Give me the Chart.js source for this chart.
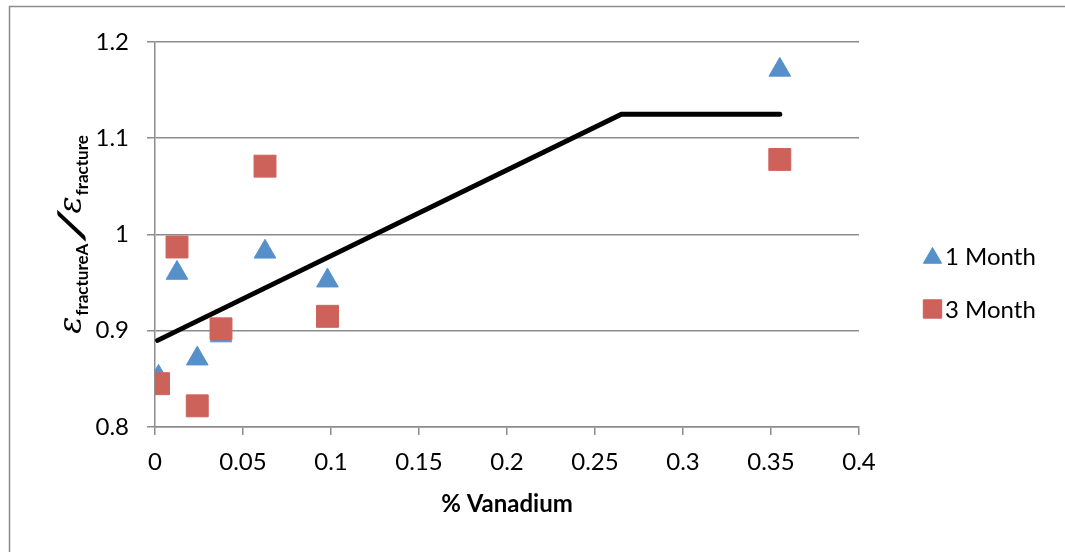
<!DOCTYPE html>
<html>
<head>
<meta charset="utf-8">
<script src="https://cdn.jsdelivr.net/npm/chart.js@4/dist/chart.umd.min.js"></script>
<style>
  html, body { margin: 0; padding: 0; background: #fff; }
  #wrap { width: 1065px; height: 552px; position: relative; }
</style>
</head>
<body>
<div id="wrap"><canvas id="grafico" width="1065" height="552"></canvas></div>
<script>
// valores
const vanadio = [0.002, 0.0125, 0.024, 0.0375, 0.0625, 0.098, 0.355];
const umMes = [0.852, 0.960, 0.871, 0.895, 0.982, 0.952, 1.171];
const tresMeses = [0.845, 0.987, 0.822, 0.902, 1.071, 0.915, 1.078];
const ajusteX = [0.0015, 0.265, 0.355];
const ajusteY = [0.890, 1.125, 1.125];
const nomesSeries = ['1 Month', '3 Month'];
const tituloX = '% Vanadium';

const AZUL = '#5590CA';
const VERMELHO = '#CD625B';
const CINZA = '#8c8c8c';
const FONTE = 'Lato, "Open Sans", sans-serif';

const pares = (xs, ys) => xs.map((x, i) => ({ x: x, y: ys[i] }));

// moldura do gráfico (só esquerda e topo aparecem)
const moldura = {
  id: 'moldura',
  beforeDraw(chart) {
    const ctx = chart.ctx;
    ctx.save();
    ctx.fillStyle = '#fff';
    ctx.fillRect(0, 0, chart.width, chart.height);
    ctx.strokeStyle = CINZA;
    ctx.lineWidth = 1.5;
    ctx.beginPath();
    ctx.moveTo(9.5, chart.height);
    ctx.lineTo(9.5, 6.5);
    ctx.lineTo(chart.width, 6.5);
    ctx.stroke();
    ctx.restore();
  }
};

// título do eixo Y com subscritos
const tituloY = {
  id: 'tituloY',
  afterDraw(chart) {
    const ctx = chart.ctx;
    const area = chart.chartArea;
    const partes = [
      { t: 'ε', f: 'italic 32px "DejaVu Serif", serif', b: 0, gap: 1 },
      { t: 'fractureA', f: 'bold 17px ' + FONTE, b: 7, gap: 1 },
      { t: '/', f: 'bold 36px ' + FONTE, b: 3, gap: 4, sx: 1.5 },
      { t: 'ε', f: 'italic 32px "DejaVu Serif", serif', b: 0, gap: 1 },
      { t: 'fracture', f: 'bold 17px ' + FONTE, b: 7, gap: 0 }
    ];
    ctx.save();
    let total = 0;
    partes.forEach((p, i) => {
      ctx.font = p.f;
      p.w = ctx.measureText(p.t).width * (p.sx || 1);
      total += p.w + (i < partes.length - 1 ? p.gap : 0);
    });
    const centro = (area.top + area.bottom) / 2;
    ctx.translate(81, centro);
    ctx.rotate(-Math.PI / 2);
    ctx.fillStyle = '#000';
    ctx.textBaseline = 'alphabetic';
    ctx.textAlign = 'left';
    let x = -total / 2;
    partes.forEach(p => {
      ctx.font = p.f;
      if (p.sx) {
        ctx.save();
        ctx.translate(x, p.b);
        ctx.transform(1, 0, -0.35, 1, 0, 0);
        ctx.scale(p.sx, 1);
        ctx.fillText(p.t, 0, 0);
        ctx.restore();
      } else {
        ctx.fillText(p.t, x, p.b);
      }
      x += p.w + p.gap;
    });
    ctx.restore();
  }
};

// legenda desenhada à direita
const legenda = {
  id: 'legenda',
  afterDraw(chart) {
    const ctx = chart.ctx;
    const estilos = [
      { pointStyle: 'triangle', radius: 10.5, cor: AZUL },
      { pointStyle: 'rect', radius: 13, cor: VERMELHO }
    ];
    ctx.save();
    nomesSeries.forEach((nome, i) => {
      const y = 256 + i * 53;
      const e = estilos[i];
      ctx.fillStyle = e.cor;
      ctx.strokeStyle = e.cor;
      ctx.lineWidth = 1;
      Chart.helpers.drawPoint(ctx, { pointStyle: e.pointStyle, radius: e.radius, borderWidth: 1, rotation: 0 }, 932.5, i === 0 ? y + 2 : y);
      ctx.fillStyle = '#000';
      ctx.font = '24px ' + FONTE;
      ctx.textBaseline = 'middle';
      ctx.textAlign = 'left';
      ctx.fillText(nome, 945, y + 1);
    });
    ctx.restore();
  }
};

new Chart(document.getElementById('grafico').getContext('2d'), {
  type: 'scatter',
  data: {
    datasets: [
      {
        label: nomesSeries[0],
        data: pares(vanadio, umMes),
        pointStyle: 'triangle',
        pointRadius: 12.5,
        pointHoverRadius: 12.5,
        backgroundColor: AZUL,
        borderColor: AZUL,
        borderWidth: 1,
        order: 1
      },
      {
        label: nomesSeries[1],
        data: pares(vanadio, tresMeses),
        pointStyle: 'rect',
        pointRadius: 15.5,
        pointHoverRadius: 15.5,
        backgroundColor: VERMELHO,
        borderColor: VERMELHO,
        borderWidth: 1,
        order: 0
      },
      {
        label: 'ajuste',
        data: pares(ajusteX, ajusteY),
        showLine: true,
        pointRadius: 0,
        borderColor: '#000',
        borderWidth: 5,
        borderCapStyle: 'round',
        borderJoinStyle: 'round',
        fill: false,
        order: 2
      }
    ]
  },
  options: {
    responsive: false,
    animation: false,
    events: [],
    layout: { padding: { left: 0, top: 42, right: 206, bottom: 0 } },
    plugins: {
      legend: { display: false },
      tooltip: { enabled: false }
    },
    scales: {
      x: {
        type: 'linear',
        min: 0,
        max: 0.4,
        afterFit: s => { s.height = 125; },
        ticks: {
          stepSize: 0.05,
          padding: 13,
          color: '#000',
          font: { family: FONTE, size: 24 },
          callback: v => String(Math.round(v * 100) / 100)
        },
        grid: { drawOnChartArea: false, drawTicks: true, tickLength: 8, color: CINZA, lineWidth: 1.5 },
        border: { color: CINZA, width: 1.5 },
        title: {
          display: true,
          text: tituloX,
          color: '#000',
          font: { family: FONTE, size: 24, weight: 'bold' },
          padding: { top: 0, bottom: 33 }
        }
      },
      y: {
        type: 'linear',
        min: 0.8,
        max: 1.2,
        afterFit: s => { s.width = 155; },
        ticks: {
          stepSize: 0.1,
          padding: 18,
          color: '#000',
          font: { family: FONTE, size: 24 },
          callback: v => String(Math.round(v * 10) / 10)
        },
        grid: { drawTicks: true, tickLength: 8, color: CINZA, lineWidth: 1.5 },
        border: { color: CINZA, width: 1.5 }
      }
    }
  },
  plugins: [moldura, tituloY, legenda]
});
</script>
</body>
</html>
